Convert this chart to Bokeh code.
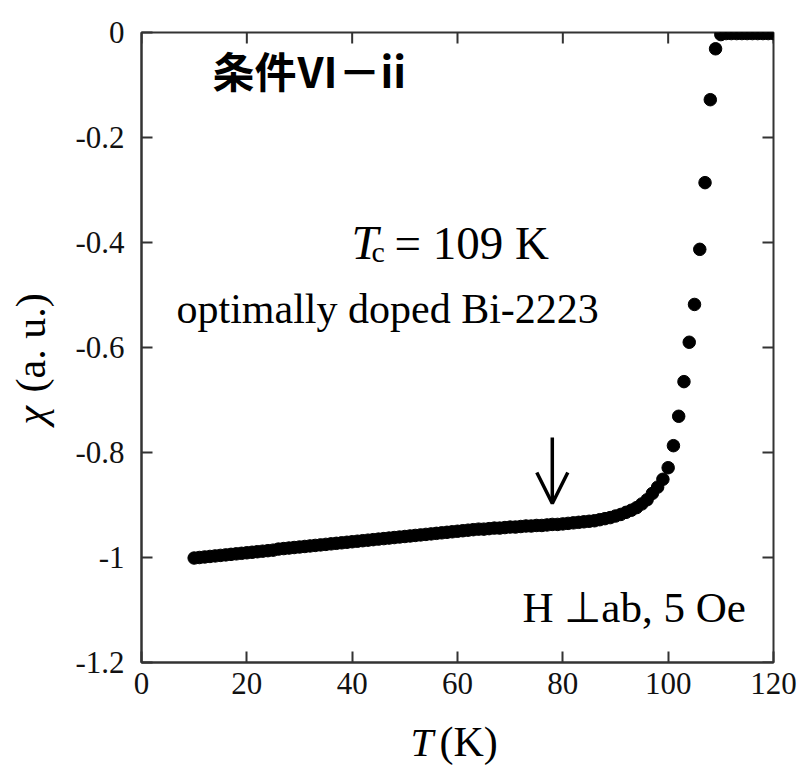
import math
from bokeh.plotting import figure
from bokeh.models import (Range1d, FixedTicker, Label, Arrow, OpenHead, ColumnDataSource)
from bokeh.embed import file_html
from bokeh.resources import INLINE

# ---------------- data ----------------
temperature_K = [10, 11, 12, 13, 14, 15, 16, 17, 18, 19,
                 20, 21, 22, 23, 24, 25, 26, 27, 28, 29,
                 30, 31, 32, 33, 34, 35, 36, 37, 38, 39,
                 40, 41, 42, 43, 44, 45, 46, 47, 48, 49,
                 50, 51, 52, 53, 54, 55, 56, 57, 58, 59,
                 60, 61, 62, 63, 64, 65, 66, 67, 68, 69,
                 70, 71, 72, 73, 74, 75, 76, 77, 78, 79,
                 80, 81, 82, 83, 84, 85, 86, 87, 88, 89,
                 90, 91, 92, 93, 94, 95, 96, 97, 98, 99,
                 100, 101, 102, 103, 104, 105, 106, 107, 108, 109,
                 110, 111, 112, 113, 114, 115, 116, 117, 118, 119, 120]

chi_au = [-1.001, -1.000, -0.999, -0.998, -0.997, -0.996, -0.995, -0.994, -0.993, -0.992,
          -0.991, -0.990, -0.989, -0.988, -0.987, -0.986, -0.984, -0.983, -0.982, -0.981,
          -0.980, -0.979, -0.978, -0.977, -0.976, -0.975, -0.974, -0.973, -0.972, -0.971,
          -0.970, -0.969, -0.968, -0.967, -0.966, -0.965, -0.964, -0.963, -0.962, -0.961,
          -0.960, -0.959, -0.958, -0.957, -0.956, -0.955, -0.954, -0.953, -0.952, -0.951,
          -0.950, -0.949, -0.948, -0.947, -0.946, -0.946, -0.945, -0.944, -0.944, -0.943,
          -0.942, -0.942, -0.941, -0.940, -0.940, -0.939, -0.939, -0.938, -0.937, -0.937,
          -0.936, -0.935, -0.934, -0.933, -0.932, -0.931, -0.930, -0.928, -0.926, -0.924,
          -0.921, -0.918, -0.914, -0.910, -0.905, -0.898, -0.890, -0.878, -0.866, -0.851,
          -0.829, -0.787, -0.731, -0.665, -0.590, -0.518, -0.413, -0.286, -0.128, -0.031,
          -0.004, -0.002, -0.002, -0.002, -0.002, -0.002, -0.002, -0.002, -0.002, -0.002, -0.002]

x_ticks = [0, 20, 40, 60, 80, 100, 120]
x_tick_labels = ["0", "20", "40", "60", "80", "100", "120"]
y_ticks = [0.0, -0.2, -0.4, -0.6, -0.8, -1.0, -1.2]
y_tick_labels = ["0", "-0.2", "-0.4", "-0.6", "-0.8", "-1", "-1.2"]

# ---------------- layout ----------------
W, H = 801, 765
FL, FR, FT, FB = 141, 773, 32, 662
X0, X1 = 0, 120
Y0, Y1 = -1.2, 0
TICK_PX = 11


def dx(px):
    return X0 + (px - FL) * (X1 - X0) / (FR - FL)


def dy(py):
    return Y1 - (py - FT) * (Y1 - Y0) / (FB - FT)


p = figure(width=W, height=H, output_backend="svg", toolbar_location=None,
           x_range=Range1d(X0, X1), y_range=Range1d(Y0, Y1),
           min_border_left=FL, min_border_right=W - FR,
           min_border_top=FT, min_border_bottom=H - FB)
p.grid.visible = False
p.background_fill_color = "white"
p.border_fill_color = "white"

AX_COL = "#333333"
SERIF = "Liberation Serif"
p.outline_line_color = AX_COL
p.outline_line_width = 2


def style_axis(ax, ticks, labels):
    ax.ticker = FixedTicker(ticks=ticks)
    ax.axis_line_color = AX_COL
    ax.axis_line_width = 2
    ax.major_tick_line_color = AX_COL
    ax.major_tick_line_width = 2
    ax.major_tick_in = TICK_PX
    ax.major_tick_out = 0
    ax.minor_tick_line_color = None
    ax.major_label_text_font = SERIF
    ax.major_label_text_font_size = "31px"
    ax.major_label_text_color = "#111111"
    ax.major_label_overrides = {t: l for t, l in zip(ticks, labels)}


xa = p.xaxis[0]
style_axis(xa, x_ticks, x_tick_labels)
xa.major_label_standoff = 10

ya = p.yaxis[0]
style_axis(ya, y_ticks, y_tick_labels)
ya.major_label_standoff = 17

# mirror ticks on the top and right edges of the box (from the tick lists)
tick_dy = TICK_PX * (Y1 - Y0) / (FB - FT)
tick_dx = TICK_PX * (X1 - X0) / (FR - FL)
p.segment(x0=x_ticks, y0=[Y1] * len(x_ticks), x1=x_ticks, y1=[Y1 - tick_dy] * len(x_ticks),
          line_color=AX_COL, line_width=2)
p.segment(x0=[X1] * len(y_ticks), y0=y_ticks, x1=[X1 - tick_dx] * len(y_ticks), y1=y_ticks,
          line_color=AX_COL, line_width=2)

# ---------------- data points ----------------
src = ColumnDataSource(dict(T=temperature_K, chi=chi_au))
p.scatter("T", "chi", source=src, size=12.5, color="black", line_color="black")

# ---------------- arrow ----------------
arrow_T = 78
arrow_top, arrow_tip = dy(437), dy(503)
p.add_layout(Arrow(end=OpenHead(size=31, line_width=3.5, line_color="black"),
                   x_start=arrow_T, y_start=arrow_top, x_end=arrow_T, y_end=arrow_tip,
                   line_width=3.5, line_color="black"))

# ---------------- texts ----------------
BASE_SHIFT = 15  # pixel correction for the alphabetic baseline


def make_label(px, py, text, size, font=SERIF, style="normal", baseline="alphabetic", angle=0.0):
    if baseline == "alphabetic":
        if angle == 0.0:
            py = py - BASE_SHIFT
        else:
            px = px - BASE_SHIFT
    return Label(x=dx(px), y=dy(py), text=text, text_font=font,
                 text_font_size=size, text_font_style=style, text_color="black",
                 text_align="left", text_baseline=baseline, angle=angle)


p.add_layout(make_label(212, 69, "条件Ⅵ－ii", "42px", font="Noto Sans CJK JP",
                        style="bold", baseline="middle"))
p.add_layout(make_label(351, 257, "T", "48px", style="italic"))
p.add_layout(make_label(371, 266, "c", "30px"))
p.add_layout(make_label(394, 257, "= 109 K", "47px"))
p.add_layout(make_label(176, 323, "optimally doped Bi-2223", "42px"))
p.add_layout(make_label(522, 622, "H ⊥ab, 5 Oe", "43px"))

# axis titles: placed in side panels so that they are not clipped to the frame;
# their positions are given in data units, so the panel they sit in does not matter
p.add_layout(make_label(439, 756, "(K)", "42px"), "below")
p.add_layout(make_label(410, 756, "T", "41px", style="italic"), "right")
p.add_layout(make_label(45, 392, "(a. u.)", "42px", angle=math.pi / 2), "left")
p.add_layout(make_label(45, 424, "χ", "42px", style="italic", angle=math.pi / 2), "above")

open("out.html", "w").write(file_html(p, INLINE))
